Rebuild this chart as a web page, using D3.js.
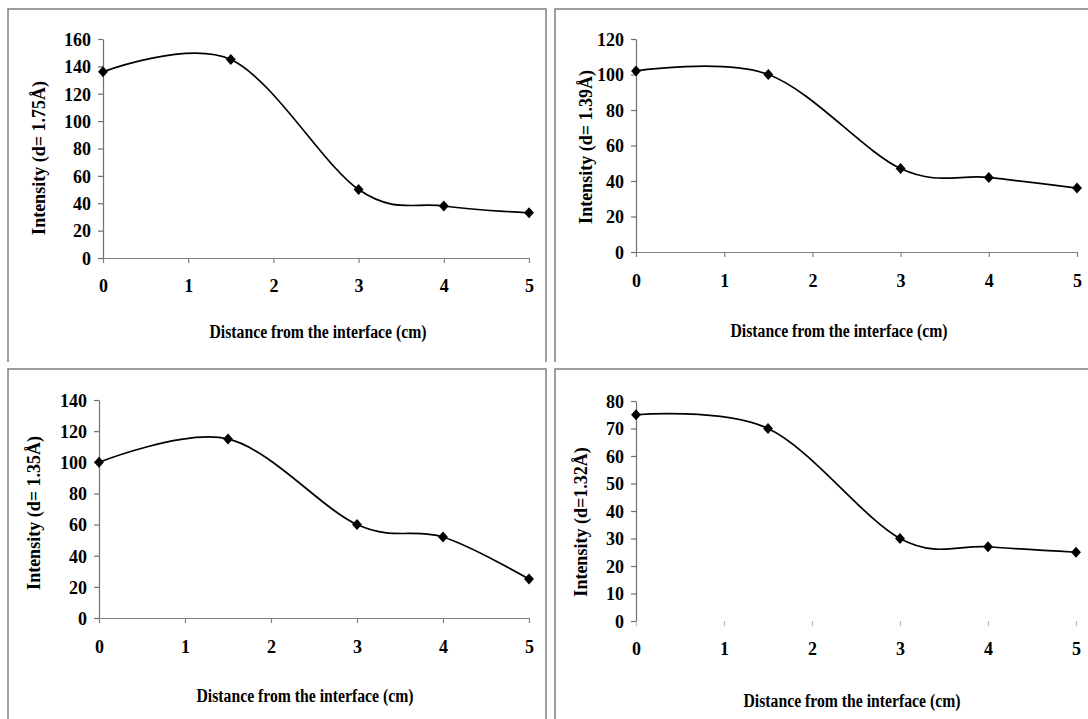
<!DOCTYPE html>
<html>
<head>
<meta charset="utf-8">
<script src="https://cdn.jsdelivr.net/npm/d3@7"></script>
<style>
  html, body { margin: 0; padding: 0; background: #fff; }
  svg { display: block; }
  text { font-family: "Liberation Serif", "Times New Roman", serif; font-weight: bold; fill: #000; }
</style>
</head>
<body>
<svg id="chart" width="1088" height="719"></svg>
<script>
// Distance from the interface (cm) at which each intensity was measured
const distance = [0, 1.5, 3, 4, 5];

// Peak intensities for each d-spacing
const intensity175 = [136, 145, 50, 38, 33];
const intensity139 = [102, 100, 47, 42, 36];
const intensity135 = [100, 115, 60, 52, 25];
const intensity132 = [75, 70, 30, 27, 25];

// Axis tick values
const xTicks = [0, 1, 2, 3, 4, 5];
const yTicks175 = [0, 20, 40, 60, 80, 100, 120, 140, 160];
const yTicks139 = [0, 20, 40, 60, 80, 100, 120];
const yTicks135 = [0, 20, 40, 60, 80, 100, 120, 140];
const yTicks132 = [0, 10, 20, 30, 40, 50, 60, 70, 80];

// Axis titles
const xTitle = "Distance from the interface (cm)";
const yTitles = ["Intensity (d= 1.75Å)", "Intensity (d= 1.39Å)", "Intensity (d= 1.35Å)", "Intensity (d=1.32Å)"];

const seriesList = [intensity175, intensity139, intensity135, intensity132];
const tickList = [yTicks175, yTicks139, yTicks135, yTicks132];

// Layout of the four panels (pixel geometry only)
const layout = [
  { frame: [8, 9, 546, 362],   plot: [103, 529, 258, 39],  xLab: 34, xT: [318, 338], yT: [45, 158],  xAxisLine: true },
  { frame: [555, 9, 1100, 362], plot: [636, 1077, 252, 39], xLab: 35, xT: [839, 337], yT: [592, 147], xAxisLine: true },
  { frame: [8, 369, 546, 730],  plot: [99, 529, 618, 400],  xLab: 35, xT: [305, 702], yT: [40, 513],  xAxisLine: true },
  { frame: [555, 369, 1100, 730], plot: [636, 1076, 621, 401], xLab: 34, xT: [852, 707], yT: [587, 522], xAxisLine: false }
];

const svg = d3.select("#chart");

// Near-square diamond marker
const diamond = {
  draw(ctx, size) {
    const h = Math.sqrt(size) / 2;
    const w = h * 0.9;
    ctx.moveTo(0, -h);
    ctx.lineTo(w, 0);
    ctx.lineTo(0, h);
    ctx.lineTo(-w, 0);
    ctx.closePath();
  }
};

seriesList.forEach((values, i) => {
  const L = layout[i];
  const ticks = tickList[i];
  const g = svg.append("g");

  // panel frame: left, top and right edges
  const [fl, ft, fr, fb] = L.frame;
  g.append("path")
    .attr("d", `M${fl},${fb}V${ft}H${fr}V${fb}`)
    .attr("fill", "none")
    .attr("stroke", "#808080")
    .attr("stroke-width", 1.5);

  const [px0, px1, py0, py1] = L.plot;
  const x = d3.scaleLinear().domain([0, 5]).range([px0, px1]);
  const y = d3.scaleLinear().domain([0, d3.max(ticks)]).range([py0, py1]);

  // y axis
  const ya = g.append("g")
    .attr("transform", `translate(${px0},0)`)
    .call(d3.axisLeft(y).tickValues(ticks).tickSize(5).tickSizeOuter(0).tickPadding(7).tickFormat(d3.format("d")));
  ya.select(".domain").attr("stroke", "#707070").attr("stroke-width", 1.2);
  ya.selectAll(".tick line").attr("stroke", "#707070").attr("stroke-width", 1.2);
  ya.selectAll("text").attr("font-size", 18).attr("font-family", null).attr("dy", "0.35em");

  // x axis
  const xa = g.append("g")
    .attr("transform", `translate(0,${py0})`)
    .call(d3.axisBottom(x).tickValues(xTicks).tickSize(5).tickSizeOuter(0).tickPadding(L.xLab - 5 - 12.8).tickFormat(d3.format("d")));
  xa.select(".domain")
    .attr("stroke", L.xAxisLine ? "#808080" : "none")
    .attr("stroke-width", 1.2);
  xa.selectAll(".tick line")
    .attr("stroke", L.xAxisLine ? "#808080" : "#b8b8b8")
    .attr("stroke-width", 1.2);
  xa.selectAll("text").attr("font-size", 18).attr("font-family", null);

  // smoothed line through the measurements
  const pts = distance.map((d, k) => [d, values[k]]);
  g.append("path")
    .datum(pts)
    .attr("fill", "none")
    .attr("stroke", "#000")
    .attr("stroke-width", 1.7)
    .attr("d", d3.line().x(d => x(d[0])).y(d => y(d[1])).curve(d3.curveCardinal.tension(0)));

  // markers
  g.selectAll(".pt")
    .data(pts)
    .join("path")
    .attr("class", "pt")
    .attr("transform", d => `translate(${x(d[0])},${y(d[1])})`)
    .attr("d", d3.symbol().type(diamond).size(121))
    .attr("fill", "#000");

  // axis titles
  g.append("text")
    .attr("x", L.xT[0])
    .attr("y", L.xT[1])
    .attr("text-anchor", "middle")
    .attr("font-size", 18)
    .attr("textLength", 217)
    .attr("lengthAdjust", "spacingAndGlyphs")
    .text(xTitle);

  g.append("text")
    .attr("transform", `translate(${L.yT[0]},${L.yT[1]}) rotate(-90)`)
    .attr("text-anchor", "middle")
    .attr("font-size", 18)
    .text(yTitles[i]);
});
</script>
</body>
</html>
